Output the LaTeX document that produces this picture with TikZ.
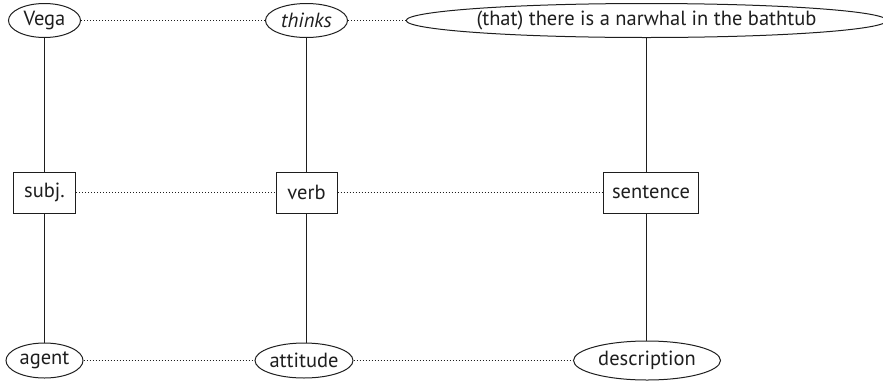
\documentclass[tikz,border=0pt]{standalone}
\usepackage{fontspec}
\setmainfont{PT Sans}
\usetikzlibrary{shapes.geometric}
\definecolor{ink}{HTML}{1E1E1E}
\tikzset{
  every node/.style={text=ink},
  oval/.style={draw=ink, ellipse, inner sep=0pt, minimum height=34pt, font=\fontsize{20.5}{22}\selectfont, line width=1pt},
  role/.style={draw=ink, rectangle, inner sep=0pt, minimum height=41pt, font=\fontsize{20.5}{22}\selectfont, line width=1pt},
  link/.style={draw=ink, line width=1pt},
  dotlink/.style={draw=ink, line width=1pt, dash pattern=on 1pt off 2pt}
}
\begin{document}
\begin{tikzpicture}[x=1pt,y=-1pt]
\useasboundingbox (0,0) rectangle (883,381);
% column positions
\coordinate (c1) at (44.5,0);
\coordinate (c2) at (306.5,0);
\coordinate (c3) at (646.5,0);
% top row: the words of the sentence
\node[oval, minimum width=72pt] (vega) at (44.5,20.5) {Vega};
\node[oval, minimum width=82pt] (thinks) at (306.5,20.5) {\itshape thinks};
\node[oval, minimum width=471pt] (clause) at (646.5,20.5) {(that) there is a narwhal in the bathtub};
% middle row: grammatical roles
\node[role, minimum width=62pt] (subj) at (44.5,192.5) {subj.};
\node[role, minimum width=61pt] (verb) at (306.5,192.5) {verb};
\node[role, minimum width=95pt] (sent) at (651,192.5) {sentence};
% bottom row: semantic roles
\node[oval, minimum width=77pt, minimum height=35pt] (agent) at (44.5,360.5) {agent};
\node[oval, minimum width=98pt, minimum height=35pt] (att) at (304,360.5) {attitude};
\node[oval, minimum width=147pt, minimum height=39pt] (desc) at (647,360.5) {description};
% vertical links
\draw[link] (c1 |- vega.south) -- (c1 |- subj.north);
\draw[link] (c1 |- subj.south) -- (c1 |- agent.north);
\draw[link] (c2 |- thinks.south) -- (c2 |- verb.north);
\draw[link] (c2 |- verb.south) -- (c2 |- att.north);
\draw[link] (c3 |- clause.south) -- (c3 |- sent.north);
\draw[link] (c3 |- sent.south) -- (c3 |- desc.north);
% horizontal dotted links
\draw[dotlink] (vega) -- (thinks);
\draw[dotlink] (thinks) -- (clause);
\draw[dotlink] (subj) -- (verb);
\draw[dotlink] (verb) -- (sent);
\draw[dotlink] (agent) -- (att);
\draw[dotlink] (att) -- (desc);
\end{tikzpicture}
\end{document}
